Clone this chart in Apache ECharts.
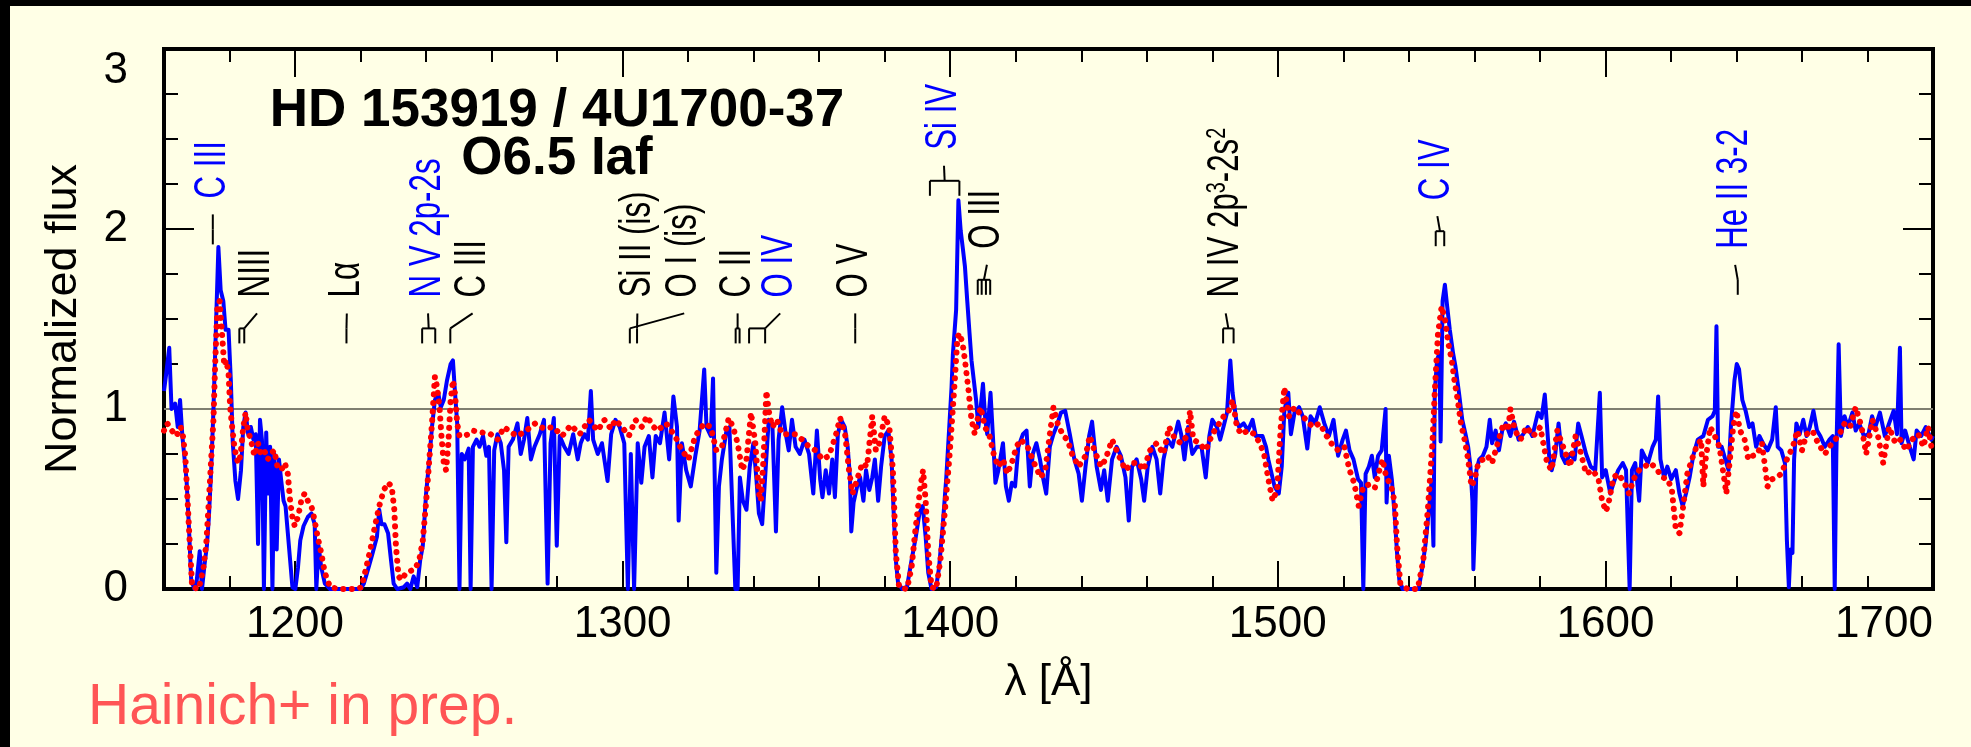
<!DOCTYPE html>
<html>
<head>
<meta charset="utf-8">
<title>HD 153919 / 4U1700-37</title>
<script src="https://cdn.jsdelivr.net/npm/echarts/dist/echarts.min.js"></script>
<style>
  html, body { margin: 0; padding: 0; background: #ffffe6; }
  #chart { width: 1971px; height: 747px; }
</style>
</head>
<body>
<div id="chart"></div>
<script>
  // observed UV spectrum, [wavelength (A), normalized flux]
  var observed = [
    [1160.0,1.10],[1160.7,1.20],[1161.6,1.34],[1162.3,1.00],[1163.4,1.03],[1164.2,0.90],[1164.9,1.05],[1165.6,0.85],
    [1166.3,0.72],[1166.9,0.60],[1167.6,0.35],[1168.3,0.05],[1169.3,0.00],[1169.9,0.03],[1170.9,0.21],[1171.6,0.00],
    [1172.4,0.14],[1173.1,0.24],[1173.7,0.40],[1174.4,0.66],[1175.1,1.00],[1175.8,1.42],[1176.6,1.90],[1177.3,1.66],
    [1178.1,1.60],[1178.8,1.44],[1179.7,1.44],[1180.4,1.16],[1181.0,0.81],[1181.8,0.60],[1182.6,0.50],[1183.5,0.66],
    [1184.2,0.90],[1184.9,0.98],[1185.7,0.86],[1186.5,0.90],[1187.3,0.83],[1188.0,0.86],[1188.7,0.25],[1189.3,0.94],
    [1189.9,0.83],[1190.5,0.00],[1191.2,0.87],[1191.7,0.53],[1192.4,0.79],[1193.1,0.00],[1193.7,0.75],[1194.4,0.22],
    [1195.1,0.72],[1195.8,0.60],[1196.5,0.49],[1197.1,0.46],[1197.8,0.31],[1198.5,0.16],[1199.2,0.01],[1200.1,0.00],
    [1200.9,0.12],[1201.6,0.27],[1202.6,0.35],[1203.9,0.40],[1205.0,0.42],[1206.0,0.36],[1206.5,0.00],[1207.2,0.24],
    [1208.0,0.12],[1209.1,0.03],[1210.7,0.00],[1220.0,0.00],[1221.0,0.03],[1222.3,0.11],[1223.7,0.20],[1225.0,0.29],
    [1225.7,0.44],[1226.4,0.36],[1227.3,0.36],[1228.4,0.31],[1229.3,0.16],[1230.1,0.03],[1231.2,0.00],[1233.2,0.01],
    [1234.2,0.03],[1235.2,0.00],[1236.2,0.07],[1237.3,0.01],[1238.2,0.16],[1239.0,0.24],[1240.0,0.53],[1241.0,0.72],
    [1241.8,0.90],[1242.7,1.05],[1243.7,1.09],[1244.5,1.01],[1245.4,1.05],[1246.4,1.16],[1247.5,1.25],[1248.2,1.27],
    [1248.8,1.10],[1249.5,0.92],[1250.2,0.00],[1250.9,0.75],[1251.8,0.72],[1253.0,0.78],[1253.6,0.00],[1254.3,0.79],
    [1255.4,0.83],[1256.3,0.79],[1257.4,0.85],[1258.4,0.74],[1259.2,0.79],[1260.0,0.00],[1260.8,0.77],[1261.8,0.86],
    [1262.8,0.81],[1263.8,0.66],[1264.5,0.26],[1265.2,0.79],[1266.5,0.83],[1267.9,0.92],[1268.9,0.75],[1269.9,0.83],
    [1270.9,0.95],[1272.0,0.72],[1273.1,0.79],[1274.7,0.86],[1276.0,0.94],[1277.1,0.03],[1278.0,0.81],[1279.0,0.95],
    [1279.9,0.24],[1280.8,0.85],[1282.2,0.79],[1283.5,0.75],[1284.9,0.86],[1286.3,0.72],[1287.2,0.81],[1288.3,0.86],
    [1289.4,0.83],[1290.3,1.10],[1291.0,0.83],[1292.4,0.75],[1293.7,0.81],[1295.4,0.60],[1296.5,0.86],[1297.8,0.94],
    [1299.1,0.90],[1300.5,0.81],[1301.6,0.00],[1302.5,0.75],[1303.5,0.00],[1304.6,0.81],[1305.7,0.59],[1306.7,0.79],
    [1308.0,0.85],[1309.1,0.62],[1310.1,0.85],[1311.4,0.81],[1312.8,0.98],[1314.2,0.72],[1315.5,1.07],[1316.6,0.90],
    [1317.1,0.38],[1318.1,0.81],[1319.4,0.66],[1320.8,0.57],[1322.2,0.74],[1323.5,0.88],[1324.9,1.22],[1325.6,0.90],
    [1326.9,0.85],[1327.6,1.17],[1328.6,0.09],[1329.4,0.57],[1330.3,0.72],[1331.7,0.88],[1332.6,0.90],[1333.7,0.35],
    [1334.4,0.00],[1335.1,0.00],[1335.8,0.62],[1336.7,0.49],[1337.8,0.44],[1338.8,0.68],[1339.9,0.81],[1340.8,0.62],
    [1341.6,0.42],[1342.6,0.36],[1343.5,0.62],[1344.6,0.94],[1345.7,0.92],[1346.8,0.32],[1347.6,0.83],[1348.7,1.01],
    [1349.8,0.86],[1350.7,0.77],[1351.7,0.94],[1352.8,0.79],[1354.1,0.75],[1355.5,0.83],[1356.9,0.75],[1358.2,0.53],
    [1359.3,0.88],[1360.3,0.61],[1361.0,0.51],[1362.0,0.66],[1363.0,0.53],[1364.0,0.72],[1364.8,0.51],[1365.7,0.86],
    [1366.7,0.94],[1367.8,0.90],[1368.7,0.79],[1369.4,0.62],[1369.8,0.32],[1370.5,0.48],[1371.6,0.57],[1372.5,0.62],
    [1373.5,0.49],[1374.3,0.66],[1375.3,0.55],[1376.2,0.62],[1377.0,0.72],[1378.0,0.49],[1378.9,0.68],[1380.0,0.85],
    [1381.1,0.88],[1382.1,0.72],[1382.7,0.44],[1383.4,0.16],[1384.1,0.03],[1385.4,0.00],[1386.8,0.01],[1388.2,0.16],
    [1389.5,0.29],[1390.6,0.42],[1391.6,0.46],[1392.5,0.29],[1393.3,0.09],[1394.3,0.00],[1395.7,0.01],[1396.6,0.12],
    [1397.7,0.35],[1398.8,0.62],[1399.7,0.90],[1400.4,1.12],[1400.8,1.30],[1401.8,1.55],[1402.5,2.16],[1403.2,1.99],
    [1403.8,1.90],[1404.5,1.79],[1405.2,1.60],[1405.9,1.42],[1406.5,1.27],[1407.2,1.16],[1407.9,1.05],[1408.6,0.90],
    [1409.3,1.01],[1410.0,1.14],[1410.7,0.94],[1411.3,0.86],[1412.3,1.09],[1413.0,0.86],[1413.8,0.59],[1414.7,0.66],
    [1416.1,0.81],[1417.0,0.57],[1417.9,0.49],[1418.8,0.59],[1419.8,0.57],[1420.8,0.79],[1422.2,0.86],[1423.3,0.88],
    [1424.3,0.57],[1425.2,0.75],[1426.3,0.81],[1427.4,0.72],[1428.3,0.62],[1429.3,0.53],[1430.4,0.79],[1431.5,0.86],
    [1432.4,0.90],[1433.8,0.98],[1435.1,0.99],[1436.5,0.86],[1437.9,0.72],[1439.2,0.64],[1440.2,0.49],[1441.3,0.68],
    [1442.4,0.85],[1443.3,0.93],[1444.7,0.68],[1446.0,0.55],[1447.0,0.66],[1448.1,0.49],[1449.4,0.72],[1450.8,0.79],
    [1452.1,0.74],[1453.5,0.62],[1454.5,0.38],[1455.5,0.68],[1456.9,0.72],[1458.3,0.61],[1459.2,0.49],[1460.3,0.68],
    [1461.7,0.79],[1463.0,0.72],[1464.1,0.53],[1465.1,0.72],[1466.4,0.83],[1467.8,0.79],[1469.6,0.93],[1470.5,0.86],
    [1471.5,0.72],[1472.6,0.90],[1473.9,0.75],[1475.3,0.79],[1476.7,0.79],[1478.0,0.62],[1479.1,0.85],[1480.0,0.94],
    [1481.4,0.90],[1482.4,0.83],[1483.4,0.90],[1484.5,0.98],[1485.5,1.27],[1486.2,1.09],[1487.3,0.94],[1488.2,0.90],
    [1489.6,0.92],[1490.9,0.88],[1492.3,0.94],[1493.3,0.85],[1494.5,0.85],[1495.3,0.85],[1496.4,0.79],[1497.1,0.72],
    [1499.0,0.57],[1500.3,0.53],[1501.2,0.68],[1502.0,0.99],[1503.2,1.09],[1504.0,0.86],[1505.1,0.98],[1506.5,1.01],
    [1507.6,0.96],[1509.0,0.78],[1510.0,0.96],[1511.4,0.92],[1512.8,1.01],[1514.2,0.92],[1515.6,0.85],[1517.0,0.94],
    [1518.4,0.74],[1519.8,0.83],[1520.8,0.88],[1521.9,0.77],[1523.1,0.72],[1524.5,0.61],[1525.4,0.59],[1526.1,0.00],
    [1526.8,0.64],[1527.8,0.68],[1528.7,0.74],[1529.6,0.62],[1530.6,0.74],[1531.7,0.77],[1532.9,1.00],[1533.2,0.48],
    [1533.9,0.74],[1534.8,0.61],[1535.7,0.40],[1536.4,0.20],[1537.1,0.05],[1538.1,0.00],[1543.0,0.00],[1544.1,0.12],
    [1545.1,0.25],[1546.0,0.42],[1546.9,0.59],[1547.5,0.24],[1547.9,1.09],[1548.6,1.27],[1549.3,1.31],[1549.7,0.82],
    [1550.3,1.60],[1551.0,1.69],[1551.7,1.57],[1552.5,1.44],[1553.5,1.31],[1554.2,1.24],[1555.3,1.09],[1556.3,0.94],
    [1557.3,0.86],[1558.1,0.79],[1558.8,0.68],[1559.4,0.49],[1559.7,0.11],[1560.1,0.31],[1560.6,0.66],[1561.5,0.72],
    [1562.6,0.74],[1563.7,0.79],[1564.7,0.94],[1565.4,0.81],[1566.5,0.88],[1567.5,0.77],[1568.5,0.88],[1569.6,0.92],
    [1571.0,0.85],[1572.1,0.93],[1573.5,0.83],[1574.9,0.86],[1576.3,0.90],[1577.7,0.85],[1579.4,0.98],[1580.5,0.95],
    [1581.5,1.08],[1582.2,0.90],[1582.9,0.72],[1583.6,0.66],[1584.7,0.75],[1585.7,0.92],[1586.7,0.74],[1587.8,0.70],
    [1589.2,0.75],[1590.6,0.72],[1591.7,0.92],[1592.7,0.85],[1594.1,0.75],[1595.5,0.68],[1596.9,0.66],[1598.3,1.09],
    [1599.0,0.62],[1600.1,0.66],[1601.5,0.53],[1602.5,0.59],[1603.9,0.66],[1605.3,0.70],[1606.3,0.66],[1607.4,0.00],
    [1608.1,0.66],[1609.1,0.70],[1610.3,0.49],[1611.1,0.77],[1611.9,0.74],[1613.0,0.70],[1614.4,0.79],[1615.4,0.83],
    [1616.1,1.07],[1616.8,0.72],[1617.9,0.62],[1618.9,0.68],[1620.1,0.61],[1621.5,0.66],[1622.6,0.53],[1623.6,0.46],
    [1624.6,0.53],[1625.7,0.62],[1626.8,0.74],[1628.2,0.83],[1629.9,0.85],[1631.3,0.94],[1632.7,0.96],[1633.4,0.99],
    [1633.9,1.46],[1634.4,0.79],[1635.5,0.79],[1636.6,0.72],[1637.6,0.66],[1638.3,0.90],[1639.4,1.16],[1640.1,1.25],
    [1640.8,1.22],[1641.8,1.05],[1642.8,0.99],[1643.9,0.90],[1644.9,0.92],[1646.0,0.79],[1647.0,0.85],[1648.1,0.81],
    [1649.5,0.77],[1650.9,0.83],[1652.0,1.01],[1652.6,0.79],[1653.7,0.77],[1654.8,0.70],[1655.4,0.27],[1656.0,0.01],
    [1656.5,0.22],[1657.1,0.20],[1657.6,0.72],[1658.3,0.92],[1659.3,0.86],[1660.4,0.94],[1661.4,0.85],[1662.4,0.90],
    [1663.5,0.99],[1664.6,0.88],[1665.6,0.85],[1667.0,0.79],[1668.4,0.83],[1669.4,0.85],[1670.0,0.00],[1670.5,0.75],
    [1671.2,1.36],[1671.9,0.85],[1673.0,0.96],[1674.0,0.90],[1675.4,0.98],[1676.4,0.88],[1677.5,0.92],[1678.9,0.85],
    [1680.3,0.86],[1681.4,0.96],[1682.4,0.90],[1683.8,0.98],[1685.3,0.85],[1686.6,0.92],[1688.0,0.99],[1689.0,0.86],
    [1689.9,1.34],[1690.4,0.81],[1691.5,0.88],[1692.9,0.79],[1694.1,0.72],[1695.0,0.88],[1696.4,0.85],[1697.8,0.90],
    [1699.5,0.83],[1700.0,0.85]
  ];

  // model spectrum (red dotted)
  var model = [
    [1160.0,0.88],[1161.0,0.92],[1162.4,0.88],[1163.8,0.85],[1165.1,0.90],[1165.8,0.85],[1166.5,0.74],[1167.2,0.49],
    [1167.9,0.24],[1168.6,0.01],[1170.6,0.00],[1172.0,0.11],[1172.9,0.25],[1173.7,0.49],[1174.4,0.72],[1175.1,0.94],
    [1175.6,1.24],[1176.3,1.57],[1177.0,1.60],[1177.7,1.42],[1178.4,1.24],[1179.0,1.27],[1179.7,1.20],[1180.2,1.01],
    [1180.8,0.90],[1181.5,0.79],[1182.2,0.72],[1182.9,0.70],[1183.5,0.77],[1184.2,0.90],[1184.9,0.98],[1185.6,0.88],
    [1186.5,0.83],[1187.6,0.74],[1188.7,0.81],[1189.6,0.75],[1190.6,0.77],[1191.7,0.72],[1192.5,0.75],[1193.7,0.77],
    [1194.6,0.68],[1195.8,0.66],[1196.9,0.70],[1197.8,0.64],[1198.5,0.49],[1199.2,0.40],[1199.9,0.35],[1200.9,0.40],
    [1201.9,0.49],[1202.9,0.53],[1203.9,0.49],[1205.0,0.46],[1206.0,0.38],[1206.9,0.29],[1208.0,0.20],[1209.1,0.09],
    [1210.7,0.01],[1213.5,0.00],[1219.0,0.00],[1220.3,0.01],[1221.6,0.11],[1223.0,0.22],[1224.4,0.35],[1225.7,0.46],
    [1227.1,0.55],[1228.4,0.59],[1229.5,0.57],[1230.3,0.44],[1230.8,0.24],[1231.6,0.07],[1232.5,0.05],[1233.9,0.09],
    [1235.2,0.10],[1236.6,0.11],[1237.9,0.16],[1239.0,0.27],[1240.0,0.48],[1241.0,0.72],[1241.8,0.92],[1242.7,1.18],
    [1243.4,1.12],[1244.1,1.01],[1244.7,0.85],[1245.4,0.70],[1246.1,0.66],[1246.8,0.81],[1247.5,1.05],[1248.2,1.16],
    [1248.8,1.09],[1249.5,0.92],[1250.2,0.85],[1251.6,0.85],[1252.9,0.86],[1254.3,0.88],[1257.0,0.87],[1259.7,0.86],
    [1261.8,0.83],[1263.8,0.90],[1265.9,0.87],[1267.9,0.85],[1270.6,0.88],[1273.3,0.92],[1276.1,0.89],[1278.8,0.90],
    [1281.5,0.85],[1284.2,0.91],[1286.9,0.86],[1289.7,0.94],[1292.4,0.88],[1294.4,0.94],[1296.4,0.89],[1297.8,0.94],
    [1299.8,0.90],[1301.9,0.85],[1303.9,0.94],[1305.9,0.90],[1307.4,0.96],[1309.5,0.90],[1310.6,0.88],[1313.3,0.92],
    [1316.0,0.85],[1318.1,0.77],[1320.1,0.72],[1322.2,0.85],[1324.9,0.92],[1326.9,0.90],[1328.6,0.77],[1330.3,0.79],
    [1332.4,0.95],[1333.7,0.90],[1335.1,0.81],[1336.5,0.66],[1337.8,0.72],[1339.2,0.98],[1340.5,0.81],[1341.6,0.53],
    [1342.2,0.49],[1343.0,0.72],[1343.9,1.10],[1344.6,0.99],[1345.7,0.90],[1347.1,0.94],[1348.7,0.86],[1350.7,0.86],
    [1352.8,0.86],[1354.8,0.83],[1356.9,0.79],[1358.9,0.77],[1361.0,0.72],[1363.0,0.74],[1365.0,0.85],[1366.4,0.95],
    [1368.0,0.85],[1369.1,0.66],[1370.2,0.53],[1371.6,0.61],[1373.2,0.70],[1374.6,0.68],[1376.2,0.96],[1377.3,0.77],
    [1378.4,0.81],[1380.0,0.96],[1381.4,0.90],[1382.5,0.66],[1383.4,0.20],[1384.4,0.01],[1386.8,0.00],[1388.2,0.12],
    [1389.5,0.35],[1390.9,0.57],[1391.7,0.66],[1392.5,0.49],[1393.3,0.20],[1394.3,0.01],[1395.7,0.00],[1397.0,0.16],
    [1398.4,0.44],[1399.7,0.72],[1400.4,0.90],[1401.4,1.16],[1402.2,1.40],[1402.9,1.42],[1403.8,1.36],[1404.5,1.27],
    [1405.6,1.10],[1406.5,0.94],[1407.5,0.86],[1408.3,0.94],[1409.3,1.01],[1410.6,0.90],[1412.0,0.85],[1413.4,0.74],
    [1414.7,0.68],[1416.1,0.72],[1417.4,0.64],[1418.8,0.70],[1420.2,0.79],[1421.5,0.83],[1423.6,0.79],[1425.6,0.70],
    [1427.6,0.62],[1429.0,0.66],[1430.4,0.86],[1431.5,1.01],[1432.8,0.92],[1434.5,0.85],[1435.8,0.83],[1437.2,0.75],
    [1439.2,0.68],[1441.3,0.74],[1442.6,0.85],[1444.0,0.77],[1446.0,0.68],[1447.4,0.72],[1449.4,0.83],[1451.5,0.74],
    [1453.5,0.66],[1455.6,0.70],[1457.6,0.70],[1459.0,0.66],[1461.0,0.77],[1463.0,0.81],[1465.1,0.75],[1466.8,0.90],
    [1468.7,0.83],[1470.5,0.81],[1472.3,0.85],[1473.2,0.99],[1474.2,0.83],[1476.0,0.81],[1478.0,0.77],[1480.0,0.86],
    [1482.1,0.92],[1483.5,0.96],[1484.8,0.98],[1486.2,1.05],[1487.5,0.90],[1488.9,0.86],[1490.9,0.88],[1492.9,0.86],
    [1494.5,0.81],[1495.8,0.75],[1497.0,0.62],[1498.4,0.49],[1499.8,0.55],[1500.9,0.90],[1502.0,1.12],[1503.4,0.96],
    [1505.1,1.01],[1506.5,0.98],[1508.6,0.94],[1510.7,0.90],[1512.8,0.92],[1514.9,0.85],[1516.3,0.81],[1518.4,0.77],
    [1520.3,0.79],[1521.9,0.66],[1523.3,0.59],[1524.7,0.46],[1526.1,0.57],[1527.8,0.58],[1529.6,0.56],[1531.0,0.66],
    [1532.0,0.72],[1533.1,0.62],[1534.5,0.58],[1535.7,0.48],[1536.4,0.24],[1537.4,0.03],[1539.5,0.00],[1542.7,0.00],
    [1544.4,0.16],[1545.8,0.44],[1547.2,0.81],[1547.9,1.09],[1548.9,1.42],[1550.0,1.57],[1551.1,1.49],[1552.1,1.36],
    [1553.1,1.27],[1553.9,1.16],[1554.9,1.05],[1555.9,0.92],[1557.0,0.83],[1558.1,0.72],[1559.1,0.57],[1560.1,0.61],
    [1561.2,0.70],[1562.6,0.72],[1564.0,0.74],[1565.4,0.70],[1566.8,0.79],[1568.9,0.92],[1570.3,0.88],[1571.0,1.00],
    [1572.4,0.88],[1574.1,0.83],[1575.9,0.90],[1578.0,0.85],[1580.1,0.90],[1582.2,0.70],[1583.6,0.66],[1585.3,0.88],
    [1587.1,0.79],[1589.2,0.68],[1590.9,0.85],[1592.3,0.77],[1594.1,0.64],[1596.2,0.66],[1597.9,0.61],[1599.0,0.49],
    [1600.2,0.43],[1601.1,0.49],[1602.5,0.62],[1603.9,0.64],[1605.8,0.59],[1607.2,0.53],[1608.6,0.61],[1610.3,0.66],
    [1611.9,0.68],[1613.8,0.70],[1615.9,0.66],[1617.3,0.62],[1619.0,0.61],[1620.3,0.55],[1621.5,0.33],[1622.6,0.31],
    [1623.6,0.44],[1625.0,0.64],[1626.4,0.72],[1627.8,0.79],[1629.2,0.83],[1629.9,0.57],[1630.6,0.72],[1632.0,0.90],
    [1633.4,0.85],[1634.8,0.79],[1636.2,0.62],[1636.9,0.53],[1638.0,0.72],[1639.0,0.90],[1640.0,0.99],[1641.1,0.88],
    [1642.5,0.83],[1643.6,0.72],[1645.0,0.74],[1646.4,0.75],[1647.8,0.81],[1649.5,0.57],[1650.9,0.61],[1652.3,0.62],
    [1653.7,0.64],[1655.4,0.72],[1657.2,0.79],[1658.6,0.88],[1660.0,0.77],[1661.4,0.86],[1663.2,0.88],[1664.9,0.81],
    [1667.0,0.75],[1669.1,0.81],[1671.2,0.85],[1673.0,0.92],[1674.7,0.90],[1676.4,1.01],[1678.2,0.90],[1679.6,0.75],
    [1681.5,0.94],[1683.2,0.85],[1684.8,0.70],[1686.6,0.90],[1688.5,0.81],[1690.1,0.83],[1691.8,0.77],[1693.6,0.83],
    [1695.5,0.86],[1697.1,0.79],[1698.5,0.90],[1699.5,0.79]
  ];

  var xMajorTicks = [1200, 1300, 1400, 1500, 1600, 1700];
  var xMinorTicks = [1160, 1180, 1220, 1240, 1260, 1280, 1320, 1340, 1360, 1380, 1420, 1440, 1460, 1480,
                     1520, 1540, 1560, 1580, 1620, 1640, 1660, 1680];

  // line identifications: label wavelength, flux level of the label foot,
  // wavelength where the connector lands, and the line components
  var lineIds = [
    { text: 'C III', blue: true, lam: 1174.9, level: 2.17, conn: 1174.9, comps: [1174.9] },
    { text: 'NIII', lam: 1188.4, level: 1.62, conn: 1184.5, comps: [1183.0, 1184.5] },
    { text: 'L\u03b1', lam: 1215.8, level: 1.62, conn: 1215.7, comps: [1215.7] },
    { text: 'N V 2p-2s', blue: true, lam: 1240.6, level: 1.62, conn: 1240.8, comps: [1238.8, 1242.8] },
    { text: 'C III', lam: 1254.2, level: 1.62, conn: 1247.4, comps: [1247.4] },
    { text: 'Si II (is)', lam: 1304.5, level: 1.62, conn: 1304.4, comps: [1304.4] },
    { text: 'O I (is)', lam: 1318.8, level: 1.62, conn: 1302.2, comps: [1302.2] },
    { text: 'C II', lam: 1335.1, level: 1.62, conn: 1335.1, comps: [1334.5, 1335.7] },
    { text: 'O IV', blue: true, lam: 1348.1, level: 1.62, conn: 1343.5, comps: [1338.6, 1343.5] },
    { text: 'O V', lam: 1371.0, level: 1.62, conn: 1371.0, comps: [1371.0] },
    { text: 'Si IV', blue: true, lam: 1398.1, level: 2.44, conn: 1398.3, comps: [1393.8, 1402.8] },
    { text: 'O III', lam: 1411.2, level: 1.89, conn: 1410.3, comps: [1408.4, 1409.6, 1410.9, 1412.2] },
    { text: '{a|N IV 2p}{s|3}{a|-2s}{s|2}', lam: 1484.1, level: 1.62, conn: 1484.9, comps: [1483.3, 1486.5] },
    { text: 'C IV', blue: true, lam: 1548.7, level: 2.16, conn: 1549.5, comps: [1548.2, 1550.8] },
    { text: 'He II 3-2', blue: true, lam: 1639.6, level: 1.89, conn: 1640.4, comps: [1640.4] }
  ];

  var FONT = 'Liberation Sans';

  function renderLineId(params, api) {
    var id = lineIds[api.value(2)];
    var foot = api.coord([id.lam, id.level]);
    var top = foot[1] + 16, mid = top + 15, bot = top + 30;
    var xc = api.coord([id.conn, 0])[0];
    var xs = id.comps.map(function (c) { return api.coord([c, 0])[0]; });
    var ink = { stroke: '#000', lineWidth: 2, fill: null };
    var color = id.blue ? '#0000ff' : '#000';
    var children = [{
      type: 'text', x: foot[0], y: foot[1], rotation: Math.PI / 2, scaleX: 0.71,
      style: {
        text: id.text, fill: color, fontFamily: FONT, fontSize: 44,
        align: 'left', verticalAlign: 'middle',
        rich: {
          a: { fontFamily: FONT, fontSize: 44, fill: color },
          s: { fontFamily: FONT, fontSize: 28, fill: color, verticalAlign: 'top' }
        }
      }
    }, {
      type: 'line', shape: { x1: foot[0], y1: top, x2: xc, y2: mid }, style: ink
    }];
    if (xs.length > 1) {
      children.push({ type: 'line', shape: { x1: Math.min.apply(null, xs), y1: mid, x2: Math.max.apply(null, xs), y2: mid }, style: ink });
    }
    xs.forEach(function (x) {
      children.push({ type: 'line', shape: { x1: x, y1: mid, x2: x, y2: bot }, style: ink });
    });
    return { type: 'group', children: children };
  }

  function tickAxis(position, values, len) {
    return {
      type: 'value', min: 1160, max: 1700, position: position,
      axisLine: { show: false }, splitLine: { show: false },
      axisLabel: { show: false },
      axisTick: { show: true, inside: true, length: len, customValues: values, lineStyle: { color: '#000', width: 2 } }
    };
  }

  function fluxAxis(position, withLabels) {
    return {
      type: 'value', min: 0, max: 3, interval: 1, position: position,
      name: withLabels ? 'Normalized flux' : '',
      nameLocation: 'middle', nameGap: 78,
      nameTextStyle: { fontFamily: FONT, fontSize: 45, color: '#000' },
      axisLine: { show: false }, splitLine: { show: false },
      axisTick: { show: true, inside: true, length: 30, lineStyle: { color: '#000', width: 2 } },
      minorTick: { show: true, splitNumber: 4, length: 14, lineStyle: { color: '#000', width: 2 } },
      axisLabel: {
        show: withLabels, margin: 36, fontFamily: FONT, fontSize: 44, color: '#000',
        verticalAlignMaxLabel: 'top'
      }
    };
  }

  var chart = echarts.init(document.getElementById('chart'), null, { renderer: 'canvas' });

  var bottomAxis = tickAxis('bottom', xMajorTicks, 28);
  bottomAxis.name = '\u03bb [\u00c5]';
  bottomAxis.nameLocation = 'middle';
  bottomAxis.nameGap = 72;
  bottomAxis.nameTextStyle = { fontFamily: FONT, fontSize: 44, color: '#000' };
  bottomAxis.axisLabel = {
    show: true, customValues: xMajorTicks, margin: 14,
    fontFamily: FONT, fontSize: 44, color: '#000', alignMaxLabel: 'right',
    formatter: function (v) { return String(v); }
  };

  chart.setOption({
    backgroundColor: '#ffffe6',
    animation: false,
    grid: {
      left: 164, top: 49, right: 38, bottom: 158,
      containLabel: false, outerBoundsMode: 'none',
      show: true, borderColor: '#000', borderWidth: 4, backgroundColor: 'transparent'
    },
    xAxis: [
      bottomAxis,
      tickAxis('bottom', xMinorTicks, 13),
      tickAxis('top', xMajorTicks, 28),
      tickAxis('top', xMinorTicks, 13)
    ],
    yAxis: [fluxAxis('left', true), fluxAxis('right', false)],
    graphic: [
      { type: 'rect', shape: { x: 0, y: 0, width: 10, height: 747 }, style: { fill: '#000' } },
      { type: 'rect', shape: { x: 0, y: 0, width: 1971, height: 6 }, style: { fill: '#000' } },
      { type: 'text', x: 557, y: 111, style: { text: 'HD 153919 / 4U1700-37', fontFamily: FONT, fontWeight: 'bold', fontSize: 53, fill: '#000', align: 'center', verticalAlign: 'middle' } },
      { type: 'text', x: 557, y: 159, style: { text: 'O6.5 Iaf', fontFamily: FONT, fontWeight: 'bold', fontSize: 53, fill: '#000', align: 'center', verticalAlign: 'middle' } },
      { type: 'text', x: 88, y: 708, style: { text: 'Hainich+ in prep.', fontFamily: FONT, fontSize: 57, fill: '#ff5555', align: 'left', verticalAlign: 'middle' } }
    ],
    series: [
      {
        name: 'observed', type: 'line', data: observed, showSymbol: false, z: 3,
        lineStyle: { color: '#0000ff', width: 4, join: 'round' },
        markLine: {
          silent: true, symbol: 'none', z: 1, animation: false,
          label: { show: false },
          lineStyle: { color: '#7f7f70', width: 2, type: 'solid' },
          data: [{ yAxis: 1 }]
        }
      },
      {
        name: 'model', type: 'line', data: model, showSymbol: false, z: 4,
        lineStyle: { color: '#ff0000', width: 6, type: [0.1, 8.5], cap: 'round', join: 'round' }
      },
      {
        name: 'line ids', type: 'custom', coordinateSystem: 'cartesian2d', silent: true, clip: false, z: 5,
        renderItem: renderLineId,
        encode: { x: 0, y: 1 },
        data: lineIds.map(function (d, i) { return [d.lam, d.level, i]; })
      }
    ]
  });
</script>
</body>
</html>
